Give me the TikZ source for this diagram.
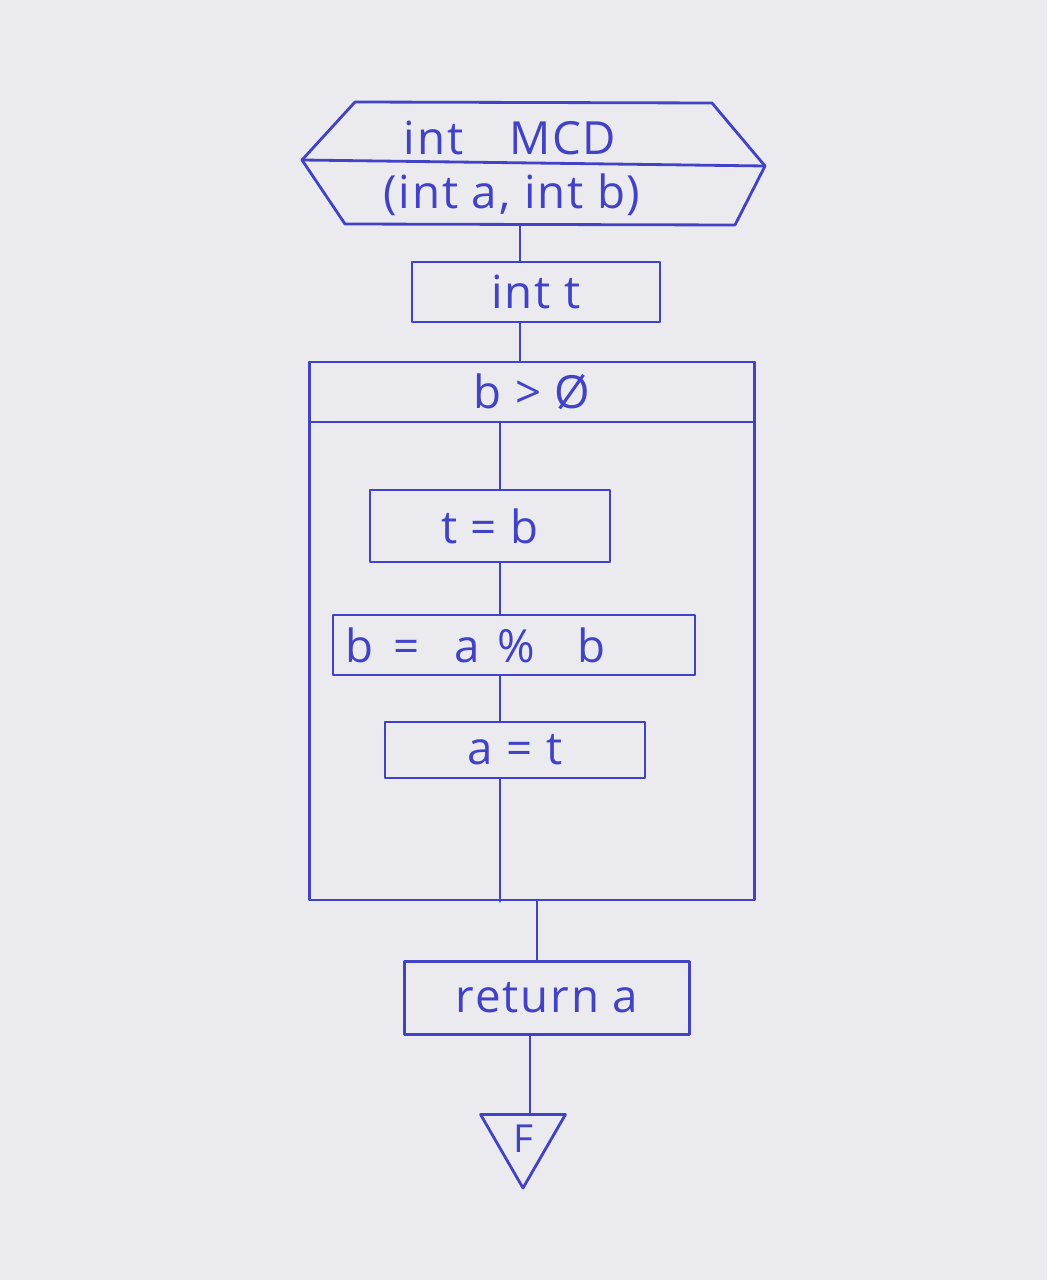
\documentclass[tikz,border=0pt]{standalone}
\usepackage{fontspec}
\setsansfont{Open Sans}[LetterSpace=4]
\usepackage{xcolor}
\usetikzlibrary{shapes.geometric, positioning}
\definecolor{ink}{RGB}{66,66,198}
\definecolor{paper}{RGB}{235,235,239}

\begin{document}
\begin{tikzpicture}[
    x=0.02cm, y=-0.02cm,
    inkline/.style={draw=ink, line width=1.6pt, line cap=round, line join=round},
    txt/.style={text=ink, font=\sffamily\fontsize{26}{30}\selectfont, inner sep=0pt},
    box/.style={rectangle, inkline, txt, inner sep=0pt},
    endmark/.style={regular polygon, regular polygon sides=3, shape border rotate=180,
                    inkline, text=ink, minimum size=1.96cm, inner sep=0pt,
                    font=\sffamily\fontsize{22}{24}\selectfont}
]
% paper
\fill[paper] (0,0) rectangle (1047,1280);
\useasboundingbox (0,0) rectangle (1047,1280);

% function header
\coordinate (hexw) at (302,160);
\coordinate (hexe) at (765,166);
\draw[inkline] (355,102) -- (712,103) -- (hexe) -- (735,225) -- (345,224) -- (hexw) -- cycle;
\draw[inkline] (hexw) -- (hexe);
\node[txt] (fname) at (510,138) {int\quad MCD};
\node[txt] (fargs) at (512,195) {(int a, int b)};
\coordinate (hexbot) at (520,225);

% declaration
\node[box, minimum width=4.96cm, minimum height=1.2cm] (intt) at (536,292) {int t};

% while loop
\node[box, minimum width=8.9cm, minimum height=10.76cm] (loop) at (532,631) {};
\node[box, minimum width=8.9cm, minimum height=1.2cm] (cond) at (532,392) {b > Ø};
\coordinate (spine) at (500,422);

\node[box, minimum width=4.8cm, minimum height=1.44cm] (tb) at (490,526) {t = b};
\node[box, minimum width=7.24cm, minimum height=1.2cm, text width=6.74cm,
      inner xsep=0.25cm, align=left] (bab) at (514,645)
      {b\hspace{0.4cm}=\hspace{0.7cm}a\hspace{0.35cm}\%\hspace{0.85cm}b};
\node[box, minimum width=5.2cm, minimum height=1.12cm] (at) at (515,750) {a = t};

% return and end
\coordinate (exit) at (537,900);
\node[box, minimum width=5.7cm, minimum height=1.46cm] (ret) at (547,998) {return a};
\node[endmark] (fin) at (523,1139) {\raisebox{-9pt}{F}};
\coordinate (retdown) at (530,1035);

% connectors
\draw[inkline] (hexbot) -- (hexbot |- intt.north);
\draw[inkline] (hexbot |- intt.south) -- (hexbot |- cond.north);
\draw[inkline] (spine) -- (spine |- tb.north);
\draw[inkline] (spine |- tb.south) -- (spine |- bab.north);
\draw[inkline] (spine |- bab.south) -- (spine |- at.north);
\draw[inkline] (spine |- at.south) -- (spine |- loop.south);
\draw[inkline] (exit) -- (exit |- ret.north);
\draw[inkline] (retdown) -- (retdown |- fin.north);
\end{tikzpicture}
\end{document}
